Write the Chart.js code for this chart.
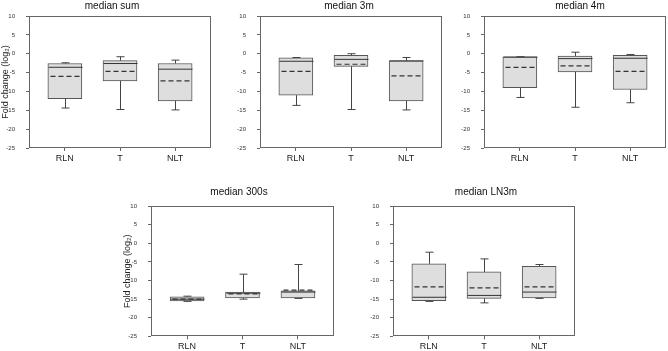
<!DOCTYPE html>
<html>
<head>
<meta charset="utf-8">
<script src="https://cdn.jsdelivr.net/npm/chart.js@4/dist/chart.umd.min.js"></script>
<style>
    html, body { margin: 0; padding: 0; background: #fff; }
    #wrap { position: relative; width: 668px; height: 351px; overflow: hidden; }
    #wrap canvas { position: absolute; left: 0; top: 0; }
</style>
</head>
<body>
<div id="wrap"></div>
<script>
// Data (log2 fold change)
const groups = ['RLN', 'T', 'NLT'];
const panelTitles = ['median sum', 'median 3m', 'median 4m', 'median 300s', 'median LN3m'];
const yTicks = [-25, -20, -15, -10, -5, 0, 5, 10];

// one row per panel, one value per group
const whiskerLow = [
    [-14.4, -14.8, -14.9],
    [-13.7, -14.8, -14.9],
    [-11.6, -14.2, -13.0],
    [-15.6, -15.0, -14.8],
    [-15.6, -16.0, -14.8]
];
const quartile1 = [
    [-11.9, -7.2, -12.5],
    [-11.0, -3.35, -12.5],
    [-9.0, -4.8, -9.5],
    [-15.5, -14.7, -14.7],
    [-15.4, -14.8, -14.7]
];
const medians = [
    [-3.6, -2.6, -4.1],
    [-2.0, -1.5, -1.9],
    [-0.9, -1.3, -1.2],
    [-15.0, -13.4, -13.1],
    [-14.5, -14.0, -13.1]
];
const means = [
    [-6.0, -4.7, -7.2],
    [-4.7, -2.8, -5.9],
    [-3.6, -3.2, -4.7],
    [-15.0, -13.6, -12.6],
    [-11.7, -12.0, -11.7]
];
const quartile3 = [
    [-2.6, -1.85, -2.6],
    [-1.1, -0.4, -1.9],
    [-0.8, -0.6, -0.4],
    [-14.4, -13.1, -12.8],
    [-5.5, -7.7, -6.2]
];
const whiskerHigh = [
    [-2.4, -0.8, -1.7],
    [-1.0, 0.0, -1.0],
    [-0.8, 0.4, -0.2],
    [-14.2, -8.3, -5.7],
    [-2.4, -4.2, -5.7]
];

// layout of each panel's plot frame on the page
const frames = [
    { l: 29, t: 16, r: 211, b: 148, tx: 112, ty: 6, yTitle: true },
    { l: 260, t: 16, r: 442, b: 148, tx: 349, ty: 6, yTitle: false },
    { l: 484, t: 16, r: 666, b: 148, tx: 580, ty: 6, yTitle: false },
    { l: 151, t: 206, r: 334, b: 337, tx: 239, ty: 192, yTitle: true },
    { l: 393, t: 206, r: 575, b: 337, tx: 486, ty: 192, yTitle: false }
];

const W = 668, H = 351;
const FONT = "'Liberation Sans', Arial, sans-serif";
const BOX_W = 34;

function boxPlugin(p, f) {
    return {
        id: 'boxExtras' + p,
        afterDatasetsDraw(chart) {
            const ctx = chart.ctx;
            const xs = chart.scales.x, ys = chart.scales.y;
            ctx.save();
            groups.forEach((g, i) => {
                const x = Math.round(xs.getPixelForValue(i)) + 0.5;
                const half = BOX_W / 2, cap = 4;
                const yMax = ys.getPixelForValue(whiskerHigh[p][i]);
                const yQ3 = ys.getPixelForValue(quartile3[p][i]);
                const yQ1 = ys.getPixelForValue(quartile1[p][i]);
                const yMin = ys.getPixelForValue(whiskerLow[p][i]);
                ctx.strokeStyle = '#444';
                ctx.lineWidth = 1;
                ctx.setLineDash([]);
                ctx.beginPath();
                ctx.moveTo(x, yQ3); ctx.lineTo(x, yMax);
                ctx.moveTo(x - cap, yMax); ctx.lineTo(x + cap, yMax);
                ctx.moveTo(x, yQ1); ctx.lineTo(x, yMin);
                ctx.moveTo(x - cap, yMin); ctx.lineTo(x + cap, yMin);
                ctx.stroke();
                // median
                const yMed = ys.getPixelForValue(medians[p][i]);
                ctx.strokeStyle = '#333';
                ctx.beginPath();
                ctx.moveTo(x - half, yMed); ctx.lineTo(x + half, yMed);
                ctx.stroke();
                // mean
                const yMean = ys.getPixelForValue(means[p][i]);
                ctx.setLineDash([5, 3]);
                ctx.lineWidth = 1.2;
                ctx.beginPath();
                ctx.moveTo(x - half + 2, yMean); ctx.lineTo(x + half, yMean);
                ctx.stroke();
            });
            ctx.restore();
        },
        afterDraw(chart) {
            const ctx = chart.ctx;
            const a = chart.chartArea;
            ctx.save();
            ctx.strokeStyle = '#666';
            ctx.lineWidth = 1;
            ctx.strokeRect(Math.round(a.left) + 0.5, Math.round(a.top) + 0.5,
                Math.round(a.right - a.left) - 1, Math.round(a.bottom - a.top) - 1);
            ctx.fillStyle = '#111';
            ctx.font = '10px ' + FONT;
            ctx.textAlign = 'center';
            ctx.textBaseline = 'middle';
            ctx.fillText(panelTitles[p], f.tx, f.ty);
            ctx.restore();
        }
    };
}

const wrap = document.getElementById('wrap');
frames.forEach((f, p) => {
    const cv = document.createElement('canvas');
    cv.width = W; cv.height = H;
    cv.style.width = W + 'px'; cv.style.height = H + 'px';
    wrap.appendChild(cv);

    new Chart(cv.getContext('2d'), {
        type: 'bar',
        data: {
            datasets: [{
                data: groups.map((g, i) => ({ x: i, y: [quartile1[p][i], quartile3[p][i]] })),
                backgroundColor: '#dedede',
                borderColor: '#555',
                borderWidth: 1,
                borderSkipped: false,
                barThickness: BOX_W
            }]
        },
        options: {
            responsive: false,
            animation: false,
            events: [],
            layout: {
                padding: { left: f.l - 29, top: f.t, right: W - f.r, bottom: H - f.b - 14 }
            },
            plugins: {
                legend: { display: false },
                tooltip: { enabled: false }
            },
            scales: {
                x: {
                    type: 'linear',
                    min: -0.65,
                    max: 2.65,
                    offset: false,
                    afterBuildTicks: s => { s.ticks = groups.map((g, i) => ({ value: i })); },
                    afterFit: s => { s.height = 14; },
                    ticks: {
                        callback: v => groups[v],
                        font: { size: 9, family: FONT },
                        color: '#222',
                        padding: 2,
                        maxRotation: 0,
                        autoSkip: false
                    },
                    grid: { drawOnChartArea: false, offset: false, tickLength: 3, color: '#666' },
                    border: { display: false }
                },
                y: {
                    min: -25,
                    max: 10,
                    afterBuildTicks: s => { s.ticks = yTicks.map(v => ({ value: v })); },
                    afterFit: s => { s.width = 29; },
                    ticks: {
                        font: { size: 6, family: FONT },
                        color: '#333',
                        padding: 11
                    },
                    grid: { drawOnChartArea: false, tickLength: 3, color: '#666' },
                    border: { display: false },
                    title: {
                        display: f.yTitle,
                        text: 'Fold change (log₂)',
                        font: { size: 9, family: FONT },
                        color: '#222',
                        padding: 0
                    }
                }
            }
        },
        plugins: [boxPlugin(p, f)]
    });
});
</script>
</body>
</html>
